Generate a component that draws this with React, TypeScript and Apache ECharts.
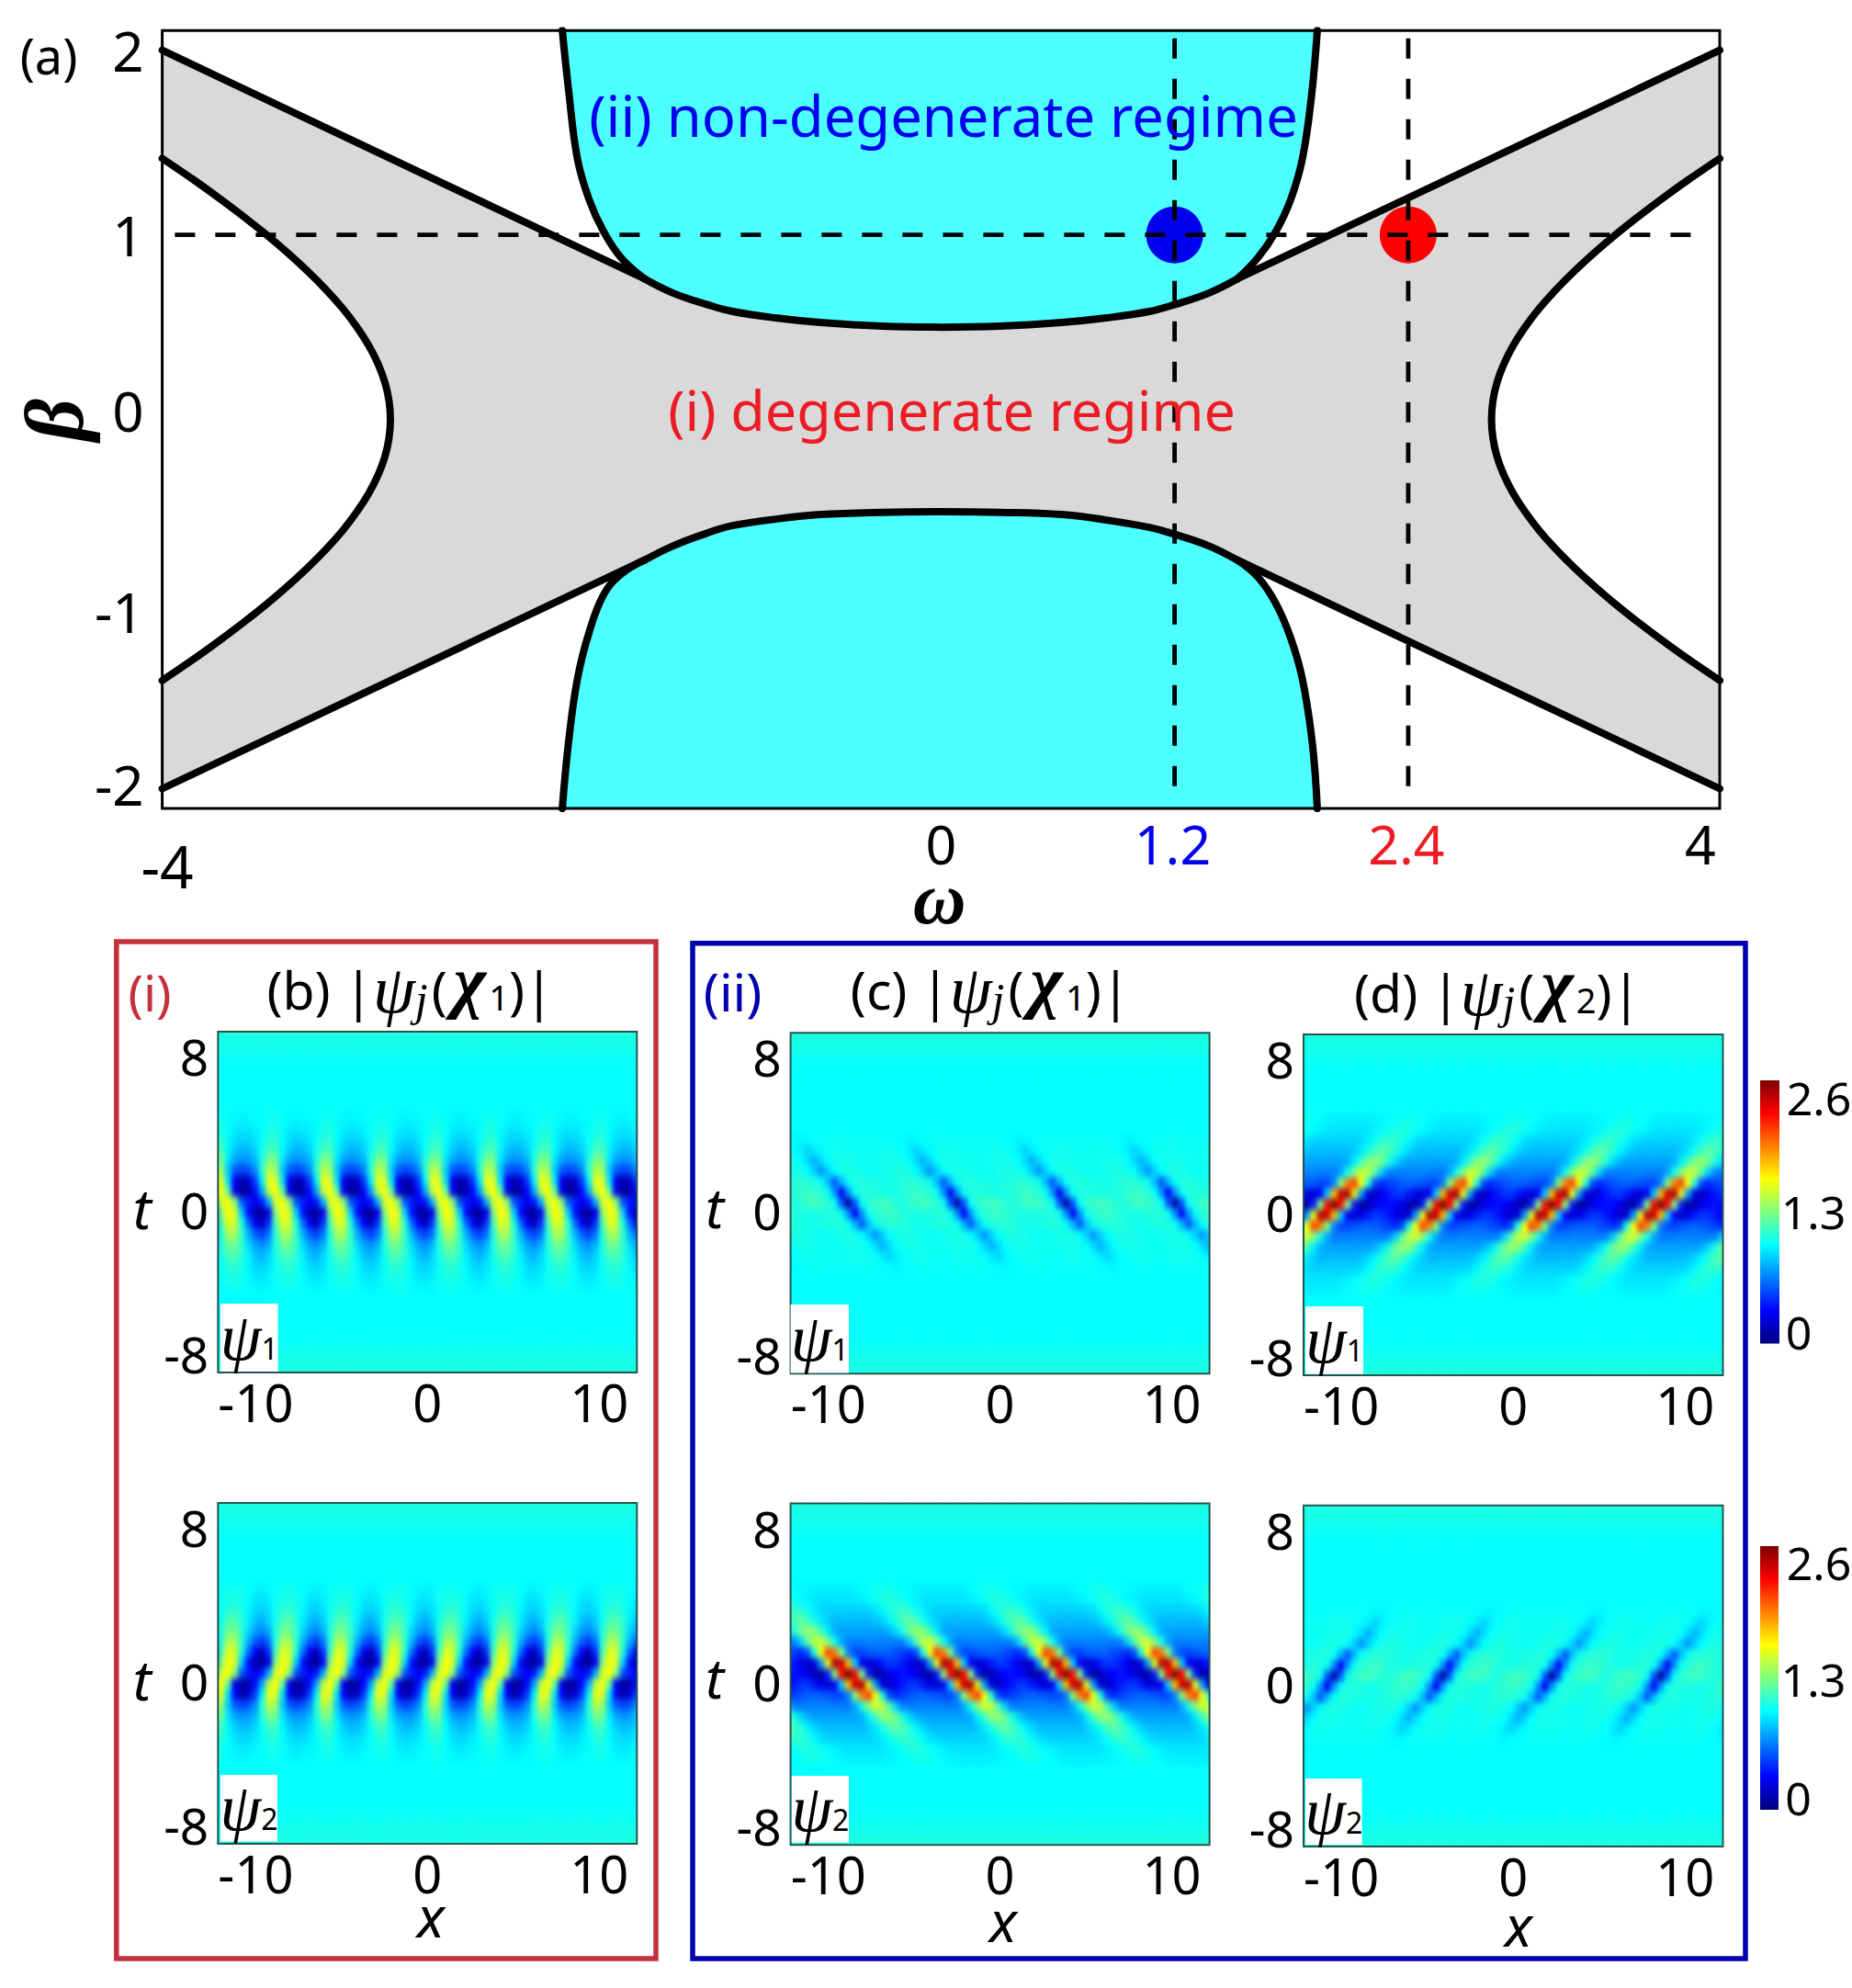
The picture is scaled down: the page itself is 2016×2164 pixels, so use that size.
import React, { useEffect, useRef } from "react";
import * as echarts from "echarts";

// ---------- panel (a) values (omega, beta) ----------
const upperLeftLine = [[-4, 2], [-1.523, 0.762]];
const upperRightLine = [[1.523, 0.762], [4, 2]];
const lowerLeftLine = [[-4, -2], [-1.523, -0.762]];
const lowerRightLine = [[1.523, -0.762], [4, -2]];
const upperValley = [[-1.523, 0.762], [-1.372, 0.683], [-1.2, 0.622], [-1.071, 0.585], [-0.85, 0.55], [-0.62, 0.525], [-0.3, 0.505], [0, 0.5], [0.3, 0.505], [0.62, 0.525], [0.85, 0.55], [1.071, 0.585], [1.2, 0.622], [1.372, 0.683], [1.523, 0.762]];
const lowerValley = [[-1.523, -0.762], [-1.372, -0.683], [-1.2, -0.615], [-1.071, -0.575], [-0.85, -0.54], [-0.62, -0.515], [-0.3, -0.503], [0, -0.5], [0.3, -0.503], [0.62, -0.515], [0.85, -0.545], [1.071, -0.585], [1.2, -0.622], [1.372, -0.683], [1.523, -0.762]];
const upperCyanLeft = [[-1.945, 2.107], [-1.914, 1.796], [-1.868, 1.415], [-1.808, 1.193], [-1.733, 1.018], [-1.643, 0.876], [-1.523, 0.762]];
const upperCyanRight = [[1.523, 0.762], [1.628, 0.876], [1.72, 1.018], [1.797, 1.193], [1.857, 1.415], [1.903, 1.75], [1.933, 2.107]];
const lowerCyanLeft = [[-1.945, -2.107], [-1.914, -1.758], [-1.868, -1.409], [-1.808, -1.155], [-1.733, -0.949], [-1.643, -0.838], [-1.523, -0.762]];
const lowerCyanRight = [[1.523, -0.762], [1.628, -0.854], [1.72, -0.997], [1.797, -1.186], [1.857, -1.409], [1.908, -1.758], [1.933, -2.107]];
const rightHyperbola = [[4, 1.414], [3.841, 1.3], [3.709, 1.2], [3.583, 1.1], [3.464, 1], [3.353, 0.9], [3.25, 0.8], [3.156, 0.7], [3.072, 0.6], [3, 0.5], [2.939, 0.4], [2.891, 0.3], [2.856, 0.2], [2.835, 0.1], [2.828, 0], [2.835, -0.1], [2.856, -0.2], [2.891, -0.3], [2.939, -0.4], [3, -0.5], [3.072, -0.6], [3.156, -0.7], [3.25, -0.8], [3.353, -0.9], [3.464, -1], [3.583, -1.1], [3.709, -1.2], [3.841, -1.3], [4, -1.414]];
const leftHyperbola = [[-4, 1.414], [-3.841, 1.3], [-3.709, 1.2], [-3.583, 1.1], [-3.464, 1], [-3.353, 0.9], [-3.25, 0.8], [-3.156, 0.7], [-3.072, 0.6], [-3, 0.5], [-2.939, 0.4], [-2.891, 0.3], [-2.856, 0.2], [-2.835, 0.1], [-2.828, 0], [-2.835, -0.1], [-2.856, -0.2], [-2.891, -0.3], [-2.939, -0.4], [-3, -0.5], [-3.072, -0.6], [-3.156, -0.7], [-3.25, -0.8], [-3.353, -0.9], [-3.464, -1], [-3.583, -1.1], [-3.709, -1.2], [-3.841, -1.3], [-4, -1.414]];
const horizontalDash = [[-3.935, 1], [3.93, 1]];
const blueDash = [[1.2, 2.065], [1.2, -2.03]];
const redDash = [[2.4, 2.065], [2.4, -2.03]];
const bluePoint = [[1.2, 1]];
const redPoint = [[2.4, 1]];
const xTickPositions = [-3.974, 0, 1.19, 2.39, 3.9];
const xTickLabels = ["-4", "0", "1.2", "2.4", "4"];
const xTickColors = ["#000000", "#000000", "#0000ee", "#ed1c24", "#000000"];
const yTickPositions = [2.0, 1, 0.05, -1.044, -1.98];
const yTickLabels = ["2", "1", "0", "-1", "-2"];

// ---------- heat maps: |psi| read by eye on a grid, half a t unit between rows ----------
// one x period of panel (b) psi1, 8 columns, rows t = 4 ... -4
const firstTRegular = 4;
const regularRows = [
  [1.01, 0.98, 0.96, 0.95, 0.96, 0.97, 0.98, 1.0],
  [1.03, 0.98, 0.94, 0.92, 0.93, 0.95, 0.98, 1.02],
  [1.08, 0.97, 0.9, 0.87, 0.88, 0.92, 0.99, 1.06],
  [1.14, 0.96, 0.85, 0.8, 0.81, 0.87, 1.0, 1.13],
  [1.25, 0.92, 0.75, 0.7, 0.72, 0.8, 1.05, 1.28],
  [1.36, 0.85, 0.56, 0.5, 0.54, 0.68, 1.08, 1.45],
  [1.52, 0.9, 0.3, 0.12, 0.2, 0.48, 0.95, 1.58],
  [1.62, 1.22, 0.3, 0.06, 0.12, 0.35, 0.75, 1.45],
  [1.5, 1.62, 1.3, 0.55, 0.4, 0.3, 0.38, 0.78],
  [1.3, 1.62, 1.5, 0.85, 0.35, 0.12, 0.06, 0.3],
  [1.15, 1.55, 1.5, 1.05, 0.6, 0.3, 0.14, 0.45],
  [1.06, 1.4, 1.4, 1.1, 0.78, 0.56, 0.48, 0.62],
  [1.05, 1.26, 1.26, 1.1, 0.88, 0.74, 0.68, 0.78],
  [1.02, 1.15, 1.18, 1.08, 0.94, 0.82, 0.78, 0.86],
  [1.0, 1.07, 1.09, 1.04, 0.96, 0.88, 0.86, 0.9],
  [1.0, 1.03, 1.04, 1.02, 0.97, 0.92, 0.91, 0.94],
  [0.99, 1.0, 1.01, 1.0, 0.98, 0.96, 0.95, 0.96],
];
// one x period of panel (c) psi2, 16 columns, rows t = 4 ... -4
const firstTStrong = 4;
const strongRows = [
  [0.97, 0.96, 0.95, 0.94, 0.94, 0.94, 0.94, 0.94, 0.94, 0.95, 0.97, 0.99, 1.01, 1.02, 1.01, 0.99],
  [1.0, 0.97, 0.94, 0.92, 0.91, 0.91, 0.91, 0.91, 0.91, 0.92, 0.94, 0.97, 1.0, 1.04, 1.06, 1.04],
  [1.11, 1.08, 1.0, 0.93, 0.88, 0.86, 0.86, 0.86, 0.86, 0.86, 0.86, 0.87, 0.9, 0.96, 1.04, 1.09],
  [1.15, 1.22, 1.15, 1.03, 0.92, 0.85, 0.8, 0.8, 0.8, 0.8, 0.8, 0.8, 0.82, 0.87, 0.95, 1.06],
  [1.05, 1.24, 1.35, 1.32, 1.14, 0.93, 0.78, 0.74, 0.74, 0.74, 0.74, 0.74, 0.74, 0.74, 0.78, 0.88],
  [0.66, 0.85, 1.18, 1.46, 1.5, 1.32, 1.02, 0.76, 0.64, 0.64, 0.65, 0.66, 0.66, 0.65, 0.65, 0.64],
  [0.48, 0.42, 0.52, 1.05, 1.6, 2.1, 1.95, 1.3, 0.66, 0.5, 0.5, 0.54, 0.56, 0.58, 0.56, 0.52],
  [0.38, 0.28, 0.18, 0.24, 0.72, 1.55, 2.45, 2.4, 1.8, 0.85, 0.32, 0.2, 0.28, 0.38, 0.46, 0.45],
  [0.36, 0.33, 0.26, 0.14, 0.08, 0.4, 1.3, 2.25, 2.6, 2.25, 1.3, 0.4, 0.08, 0.14, 0.26, 0.33],
  [0.38, 0.45, 0.46, 0.38, 0.28, 0.2, 0.32, 0.85, 1.8, 2.4, 2.45, 1.55, 0.72, 0.24, 0.18, 0.28],
  [0.48, 0.52, 0.56, 0.58, 0.56, 0.54, 0.5, 0.5, 0.66, 1.3, 1.95, 2.1, 1.6, 1.05, 0.52, 0.42],
  [0.66, 0.64, 0.65, 0.65, 0.66, 0.66, 0.65, 0.64, 0.64, 0.76, 1.02, 1.32, 1.5, 1.46, 1.18, 0.85],
  [1.05, 0.88, 0.78, 0.74, 0.74, 0.74, 0.74, 0.74, 0.74, 0.74, 0.78, 0.93, 1.14, 1.32, 1.35, 1.24],
  [1.15, 1.06, 0.95, 0.87, 0.82, 0.8, 0.8, 0.8, 0.8, 0.8, 0.8, 0.85, 0.92, 1.03, 1.15, 1.22],
  [1.11, 1.09, 1.04, 0.96, 0.9, 0.87, 0.86, 0.86, 0.86, 0.86, 0.86, 0.86, 0.88, 0.93, 1.0, 1.08],
  [1.0, 1.04, 1.06, 1.04, 1.0, 0.97, 0.94, 0.92, 0.91, 0.91, 0.91, 0.91, 0.91, 0.92, 0.94, 0.97],
  [0.97, 0.99, 1.01, 1.02, 1.01, 0.99, 0.97, 0.95, 0.94, 0.94, 0.94, 0.94, 0.94, 0.94, 0.95, 0.96],
];
// one x period of panel (c) psi1, 16 columns, rows t = 3 ... -3
const firstTWeak = 3;
const weakRows = [
  [0.97, 0.95, 0.97, 0.98, 0.99, 1.0, 1.0, 1.0, 1.0, 0.99, 0.99, 0.99, 1.0, 1.0, 0.99, 0.98],
  [0.98, 0.93, 0.87, 0.93, 0.98, 1.0, 1.01, 1.01, 1.01, 1.0, 1.0, 1.0, 1.0, 1.01, 1.01, 1.0],
  [1.01, 0.98, 0.88, 0.78, 0.88, 0.98, 1.02, 1.02, 1.02, 1.01, 1.0, 1.0, 1.0, 1.01, 1.02, 1.02],
  [1.04, 1.02, 0.98, 0.85, 0.7, 0.85, 0.98, 1.03, 1.04, 1.03, 1.01, 1.0, 1.0, 1.01, 1.03, 1.04],
  [1.06, 1.08, 1.07, 1.05, 1.0, 0.8, 0.55, 0.8, 1.0, 1.05, 1.06, 1.04, 1.03, 1.02, 1.02, 1.04],
  [1.06, 1.1, 1.12, 1.1, 1.08, 1.0, 0.7, 0.3, 0.7, 1.0, 1.06, 1.06, 1.05, 1.04, 1.03, 1.04],
  [1.05, 1.08, 1.12, 1.14, 1.12, 1.08, 1.0, 0.55, 0.1, 0.55, 1.0, 1.08, 1.12, 1.14, 1.12, 1.08],
  [1.06, 1.04, 1.03, 1.04, 1.05, 1.06, 1.06, 1.0, 0.7, 0.3, 0.7, 1.0, 1.08, 1.1, 1.12, 1.1],
  [1.06, 1.04, 1.02, 1.02, 1.03, 1.04, 1.06, 1.05, 1.0, 0.8, 0.55, 0.8, 1.0, 1.05, 1.07, 1.08],
  [1.04, 1.04, 1.03, 1.01, 1.0, 1.0, 1.01, 1.03, 1.04, 1.03, 0.98, 0.85, 0.7, 0.85, 0.98, 1.02],
  [1.01, 1.02, 1.02, 1.01, 1.0, 1.0, 1.0, 1.01, 1.02, 1.02, 1.02, 0.98, 0.88, 0.78, 0.88, 0.98],
  [0.98, 1.0, 1.01, 1.01, 1.0, 1.0, 1.0, 1.0, 1.01, 1.01, 1.01, 1.0, 0.98, 0.93, 0.87, 0.93],
  [0.97, 0.98, 0.99, 1.0, 1.0, 0.99, 0.99, 0.99, 1.0, 1.0, 1.0, 1.0, 0.99, 0.98, 0.97, 0.95],
];
// background level against |t|, for t beyond the tables
const backgroundT = [3, 3.5, 4, 4.5, 5, 5.5, 6, 6.5, 7, 7.5, 8, 8.5, 9];
const backgroundLevel = [0.98, 0.98, 0.98, 0.98, 0.98, 0.98, 0.98, 0.99, 1.01, 1.03, 1.05, 1.05, 1.05];
const jetColors = ["#00007f", "#0000ff", "#007fff", "#00ffff", "#7fff7f", "#ffff00", "#ff7f00", "#ff0000", "#7f0000"];

const CELL_W = 7.41;
const MARGIN_COLS = 2;
const PANEL_COLS = 62;
const tRows: number[] = [];
for (let i = 0; i <= 36; i++) tRows.push(9 - i * 0.5);

const mod = (a: number, b: number) => ((a % b) + b) % b;
const bgAt = (t: number) => backgroundLevel[backgroundT.indexOf(Math.abs(t))] ?? 0.98;
function lookup(rows: number[][], firstT: number, t: number, col: number) {
  const r = Math.round((firstT - t) * 2);
  if (r < 0 || r >= rows.length) return bgAt(t);
  return rows[r][col];
}
type Kind = "b1" | "b2" | "c1" | "c2" | "d1" | "d2";
function fieldValue(kind: Kind, j: number, t: number) {
  if (kind === "b1") return lookup(regularRows, firstTRegular, t, mod(j, 8));
  if (kind === "b2") return lookup(regularRows, firstTRegular, -t, mod(j, 8));
  if (kind === "c1") return lookup(weakRows, firstTWeak, t, mod(j, 16));
  if (kind === "c2") return lookup(strongRows, firstTStrong, t, mod(j, 16));
  if (kind === "d1") return lookup(strongRows, firstTStrong, t, mod(12 - j, 16));
  return lookup(weakRows, firstTWeak, t, mod(12 - j, 16));
}

const SANS = '"Noto Sans"';
const SERIF = '"Liberation Serif"';

const panels: { kind: Kind; L: number; T: number; W: number; H: number; box: number[]; sub: string }[] = [
  { kind: "b1", L: 237.3, T: 1123, W: 456, H: 371, box: [240, 1419, 62.6, 74], sub: "1" },
  { kind: "b2", L: 237.3, T: 1636, W: 456, H: 371, box: [240, 1932, 62, 72.6], sub: "2" },
  { kind: "c1", L: 860.6, T: 1124.3, W: 456, H: 371, box: [860.6, 1420, 63.4, 74.6], sub: "1" },
  { kind: "c2", L: 860.6, T: 1636.6, W: 456, H: 371.7, box: [861.8, 1933, 62.2, 72.7], sub: "2" },
  { kind: "d1", L: 1419, T: 1126, W: 456.5, H: 371, box: [1421, 1422, 63, 73.7], sub: "1" },
  { kind: "d2", L: 1419, T: 1638.8, W: 456.5, H: 371.2, box: [1421, 1936, 61.6, 72], sub: "2" },
];
const panelXTicks = [-10, 0, 10];
const panelTPositions = [6.85, -0.33, -7.1];
const panelTLabels = ["8", "0", "-8"];

function polygonSeries(points: number[][], fill: string, z: number) {
  return {
    type: "custom",
    xAxisIndex: 0,
    yAxisIndex: 0,
    silent: true,
    z,
    clip: true,
    data: [[0, 0]],
    renderItem: (_p: any, api: any) => ({
      type: "polygon",
      shape: { points: points.map((q) => api.coord(q)) },
      style: { fill, stroke: "none" },
    }),
  };
}
function lineSeries(data: number[][], smooth: boolean | number, z = 5) {
  return {
    type: "line",
    xAxisIndex: 0,
    yAxisIndex: 0,
    data,
    smooth,
    symbol: "none",
    silent: true,
    z,
    lineStyle: { color: "#000", width: 8, cap: "round", join: "round" },
  };
}
function dashSeries(data: number[][]) {
  return {
    type: "line",
    xAxisIndex: 0,
    yAxisIndex: 0,
    data,
    symbol: "none",
    silent: true,
    z: 8,
    lineStyle: { color: "#000", width: 4.8, type: [22, 22] },
  };
}
function pointSeries(data: number[][], color: string) {
  return {
    type: "scatter",
    xAxisIndex: 0,
    yAxisIndex: 0,
    data,
    symbolSize: 62,
    silent: true,
    z: 7,
    itemStyle: { color, opacity: 1 },
  };
}

function titleText(x: number, y: number, letter: string, sub: string) {
  return {
    type: "text",
    x,
    y,
    z: 50,
    style: {
      text: `{a|(${letter}) |}{p|ψ}{j|j}{a|(}{c|χ}{s|${sub}}{a|)|}`,
      align: "center",
      verticalAlign: "middle",
      rich: {
        a: { fontFamily: SANS, fontSize: 57, fill: "#000" },
        p: { fontFamily: SERIF, fontStyle: "italic", fontSize: 74, fill: "#000" },
        j: { fontFamily: SERIF, fontStyle: "italic", fontSize: 50, fill: "#000", padding: [22, 4, 0, 0] },
        c: { fontFamily: SERIF, fontStyle: "italic", fontWeight: "bold", fontSize: 76, fill: "#000", padding: [0, 3, 18, 7] },
        s: { fontFamily: SANS, fontSize: 38, fill: "#000", padding: [16, 0, 0, 0] },
      },
    },
  };
}
function plainText(x: number, y: number, text: string, fontSize: number, fill: string, extra: any = {}, rotation = 0) {
  return {
    type: "text",
    x,
    y,
    rotation,
    z: 50,
    style: { text, fontFamily: SANS, fontSize, fill, align: "center", verticalAlign: "middle", ...extra },
  };
}
function colorbar(x: number, y: number, w: number, h: number) {
  return {
    type: "rect",
    z: 40,
    shape: { x, y, width: w, height: h },
    style: {
      fill: {
        type: "linear",
        x: 0,
        y: 1,
        x2: 0,
        y2: 0,
        colorStops: jetColors.map((color, i) => ({ offset: i / (jetColors.length - 1), color })),
      },
    },
  };
}
const italic = { fontFamily: SANS, fontStyle: "italic" };
const hidden = { axisLine: { show: false }, axisTick: { show: false }, splitLine: { show: false } };

function frontOption() {
  const grids: any[] = [{ left: 176.6, top: 33.2, width: 1695.4, height: 846.8, show: true, borderColor: "#000", borderWidth: 3, backgroundColor: "transparent", z: 20 }];
  const xRich: any = {};
  xTickColors.forEach((c, i) => {
    xRich[`k${i}`] = { color: c, fontFamily: SANS, fontSize: i === 0 ? 64 : 59, padding: i === 0 ? [22, 0, 0, 0] : 0 };
  });
  const xAxes: any[] = [
    {
      type: "value",
      gridIndex: 0,
      min: -4,
      max: 4,
      ...hidden,
      axisLabel: {
        customValues: xTickPositions,
        formatter: (v: number) => {
          const i = xTickPositions.indexOf(v);
          return `{k${i}|${xTickLabels[i]}}`;
        },
        rich: xRich,
        margin: 8,
      },
    },
  ];
  const yAxes: any[] = [
    {
      type: "value",
      gridIndex: 0,
      min: -2.107,
      max: 2.107,
      ...hidden,
      axisLabel: {
        customValues: yTickPositions,
        formatter: (v: number) => yTickLabels[yTickPositions.indexOf(v)],
        color: "#000",
        fontFamily: SANS,
        fontSize: 60,
        margin: 20,
      },
    },
  ];
  const graphics: any[] = [];
  panels.forEach((p, i) => {
    grids.push({ left: p.L, top: p.T, width: p.W, height: p.H, show: true, borderColor: "#24544f", borderWidth: 2, backgroundColor: "transparent" });
    xAxes.push({
      type: "value",
      gridIndex: i + 1,
      min: -12.2,
      max: 12.2,
      ...hidden,
      axisLabel: { customValues: panelXTicks, color: "#000", fontFamily: SANS, fontSize: 56, margin: 4 },
    });
    yAxes.push({
      type: "value",
      gridIndex: i + 1,
      min: -8,
      max: 8,
      ...hidden,
      axisLabel: {
        customValues: panelTPositions,
        formatter: (v: number) => panelTLabels[panelTPositions.indexOf(v)],
        color: "#000",
        fontFamily: SANS,
        fontSize: 55,
        margin: 10,
      },
    });
    graphics.push({ type: "rect", z: 30, shape: { x: p.box[0], y: p.box[1], width: p.box[2], height: p.box[3] }, style: { fill: "#fff" } });
    graphics.push({
      type: "text",
      z: 31,
      x: p.box[0] + p.box[2] / 2,
      y: p.box[1] + p.box[3] / 2,
      style: {
        text: `{p|ψ}{s|${p.sub}}`,
        align: "center",
        verticalAlign: "middle",
        rich: {
          p: { fontFamily: SERIF, fontStyle: "italic", fontSize: 72, fill: "#000" },
          s: { fontFamily: SANS, fontSize: 32, fill: "#000", padding: [22, 0, 0, 0] },
        },
      },
    });
  });
  graphics.push(
    plainText(53, 60, "(a)", 54, "#000"),
    plainText(1027, 125, "(ii) non-degenerate regime", 61.5, "#0000ee"),
    plainText(1036, 445, "(i) degenerate regime", 61, "#ed1c24"),
    plainText(59, 457, "β", 90, "#000", { fontFamily: SERIF, fontStyle: "italic", fontWeight: "bold" }, Math.PI / 2),
    plainText(1022.6, 978, "ω", 80, "#000", { fontFamily: SERIF, fontStyle: "italic", fontWeight: "bold" }),
    plainText(163, 1079, "(i)", 55, "#c4303c"),
    plainText(797.6, 1079, "(ii)", 57, "#0000b0"),
    titleText(446.4, 1077, "b", "1"),
    titleText(1078, 1077, "c", "1"),
    titleText(1630, 1080, "d", "2"),
    plainText(154.6, 1315, "t", 60, "#000", italic),
    plainText(154.6, 1828, "t", 60, "#000", italic),
    plainText(778, 1314, "t", 60, "#000", italic),
    plainText(778, 1826, "t", 60, "#000", italic),
    plainText(469, 2085, "x", 62, "#000", italic),
    plainText(1092, 2090, "x", 62, "#000", italic),
    plainText(1653, 2095, "x", 62, "#000", italic),
    { type: "rect", z: 5, shape: { x: 126.8, y: 1025, width: 587.2, height: 1107 }, style: { fill: "none", stroke: "#c4303c", lineWidth: 5.5 } },
    { type: "rect", z: 5, shape: { x: 754, y: 1026.8, width: 1146, height: 1105.2 }, style: { fill: "none", stroke: "#0000b0", lineWidth: 5.5 } },
    colorbar(1916, 1176, 21, 286.5),
    colorbar(1916, 1683, 20, 287),
    plainText(1980, 1194.6, "2.6", 50, "#000"),
    plainText(1974, 1319, "1.3", 50, "#000"),
    plainText(1958, 1450, "0", 50, "#000"),
    plainText(1980, 1701, "2.6", 50, "#000"),
    plainText(1974, 1828, "1.3", 50, "#000"),
    plainText(1957.5, 1957, "0", 50, "#000")
  );

  const grayOutline = [
    ...upperLeftLine,
    ...upperValley,
    ...upperRightLine,
    ...rightHyperbola,
    ...[...lowerRightLine].reverse(),
    ...[...lowerValley].reverse(),
    ...[...lowerLeftLine].reverse(),
    ...[...leftHyperbola].reverse(),
  ];
  const upperCyan = [...upperCyanLeft, ...upperValley, ...upperCyanRight];
  const lowerCyan = [...lowerCyanLeft, ...lowerValley, ...lowerCyanRight];

  return {
    animation: false,
    backgroundColor: "transparent",
    grid: grids,
    xAxis: xAxes,
    yAxis: yAxes,
    graphic: graphics,
    series: [
      polygonSeries(grayOutline, "#d9d9d9", 1),
      polygonSeries(upperCyan, "#4dffff", 2),
      polygonSeries(lowerCyan, "#4dffff", 2),
      lineSeries(upperLeftLine, false),
      lineSeries(upperRightLine, false),
      lineSeries(lowerLeftLine, false),
      lineSeries(lowerRightLine, false),
      lineSeries(upperValley, 0.4),
      lineSeries(lowerValley, 0.4),
      lineSeries(upperCyanLeft, 0.4),
      lineSeries(upperCyanRight, 0.4),
      lineSeries(lowerCyanLeft, 0.4),
      lineSeries(lowerCyanRight, 0.4),
      lineSeries(rightHyperbola, 0.3),
      lineSeries(leftHyperbola, 0.3),
      pointSeries(bluePoint, "#0000ee"),
      pointSeries(redPoint, "#ff0000"),
      dashSeries(horizontalDash),
      dashSeries(blueDash),
      dashSeries(redDash),
    ],
  };
}

function backOption() {
  const cols: number[] = [];
  for (let j = -MARGIN_COLS; j < PANEL_COLS + MARGIN_COLS; j++) cols.push(j);
  const grids: any[] = [];
  const xAxes: any[] = [];
  const yAxes: any[] = [];
  const series: any[] = [];
  panels.forEach((p, i) => {
    const unit = p.H / 16;
    grids.push({
      left: p.L - MARGIN_COLS * CELL_W,
      top: p.T - 1.25 * unit,
      width: cols.length * CELL_W,
      height: 18.5 * unit,
      show: false,
    });
    xAxes.push({ type: "category", gridIndex: i, data: cols, show: false });
    yAxes.push({ type: "category", gridIndex: i, data: tRows, inverse: true, show: false });
    const data: number[][] = [];
    cols.forEach((j, cx) => {
      tRows.forEach((t, cy) => {
        data.push([cx, cy, fieldValue(p.kind, j, t)]);
      });
    });
    series.push({ type: "heatmap", xAxisIndex: i, yAxisIndex: i, data, silent: true, progressive: 0, itemStyle: { borderWidth: 0 } });
  });
  return {
    animation: false,
    backgroundColor: "transparent",
    grid: grids,
    xAxis: xAxes,
    yAxis: yAxes,
    visualMap: { show: false, min: 0, max: 2.6, dimension: 2, seriesIndex: series.map((_, i) => i), inRange: { color: jetColors } },
    series,
  };
}

const clipPathValue = `path('${panels.map((p) => `M${p.L} ${p.T}h${p.W}v${p.H}h${-p.W}Z`).join("")}')`;

export default function App() {
  const backRef = useRef<HTMLDivElement>(null);
  const frontRef = useRef<HTMLDivElement>(null);
  useEffect(() => {
    const back = echarts.init(backRef.current!, undefined, { renderer: "svg" });
    const front = echarts.init(frontRef.current!, undefined, { renderer: "svg" });
    back.setOption(backOption() as any);
    front.setOption(frontOption() as any);
    return () => {
      back.dispose();
      front.dispose();
    };
  }, []);
  const full: React.CSSProperties = { position: "absolute", left: 0, top: 0, width: 2016, height: 2164 };
  return (
    <div style={{ ...full, background: "#fff", overflow: "hidden" }}>
      <svg width={0} height={0} style={{ position: "absolute" }}>
        <defs>
          <filter id="heat-smooth" x="0" y="0" width="100%" height="100%" colorInterpolationFilters="sRGB">
            <feGaussianBlur stdDeviation="2.6 3.6" />
          </filter>
        </defs>
      </svg>
      <div style={{ ...full, clipPath: clipPathValue }}>
        <div ref={backRef} style={{ ...full, filter: "url(#heat-smooth)" }} />
      </div>
      <div ref={frontRef} style={full} />
    </div>
  );
}
